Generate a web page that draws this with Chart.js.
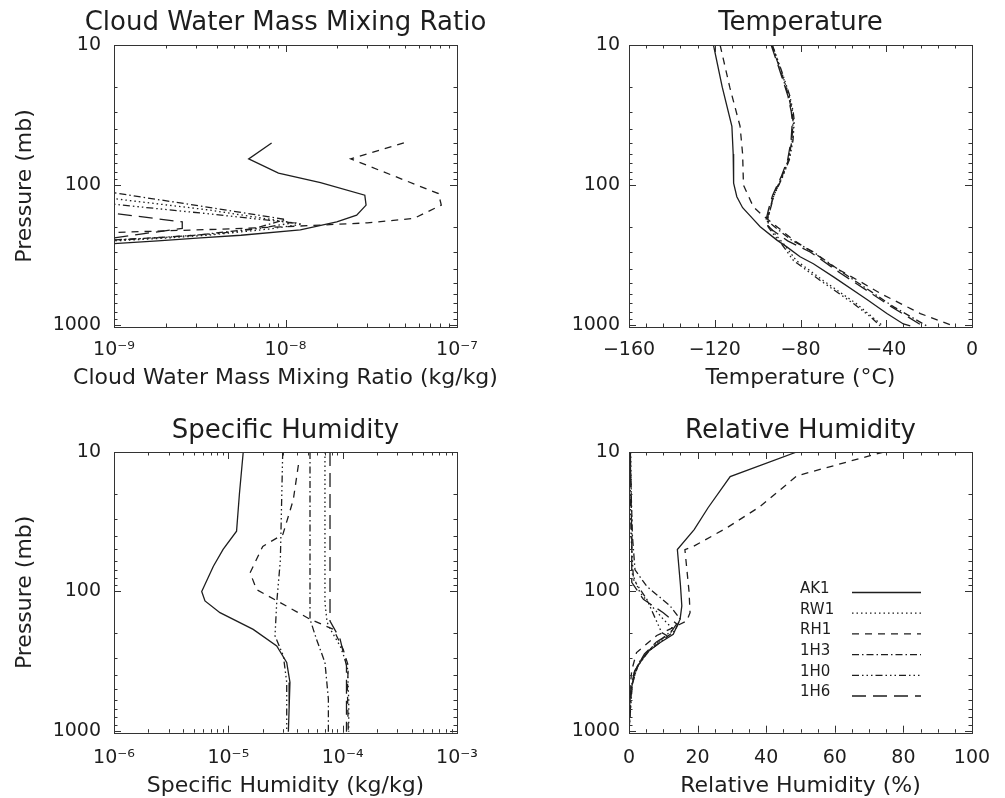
<!DOCTYPE html>
<html>
<head>
<meta charset="utf-8">
<title>Profiles</title>
<script src="https://cdn.jsdelivr.net/npm/chart.js@4.4.0/dist/chart.umd.min.js"></script>
<style>
    html, body { margin: 0; padding: 0; background: #fff; overflow: hidden; }
    .panel { position: absolute; }
    canvas { display: block; }
</style>
</head>
<body>
<div class="panel" style="left:0;top:0"><canvas id="cloud-chart" width="500" height="400"></canvas></div>
<div class="panel" style="left:500px;top:0"><canvas id="temp-chart" width="505" height="400"></canvas></div>
<div class="panel" style="left:0;top:400px"><canvas id="shum-chart" width="500" height="398"></canvas></div>
<div class="panel" style="left:500px;top:400px"><canvas id="rhum-chart" width="505" height="398"></canvas></div>
<script>
// ===============================
// DATA  (pairs are [value, pressure in mb])
// ===============================
const runNames = ["AK1", "RW1", "RH1", "1H3", "1H0", "1H6"];

const pressureTicks = [10, 100, 1000];
const cloudTicks = [1e-9, 1e-8, 1e-7];
const tempTicks = [-160, -120, -80, -40, 0];
const shumTicks = [1e-6, 1e-5, 1e-4, 1e-3];
const rhumTicks = [0, 20, 40, 60, 80, 100];

// Cloud water mass mixing ratio (kg/kg)
const cloudAK1 = [[8.3e-9, 50], [6.1e-9, 65], [9.1e-9, 82], [1.6e-8, 96], [2.9e-8, 118], [2.95e-8, 139], [2.6e-8, 164], [1.99e-8, 183], [1.22e-8, 209], [5.5e-9, 228], [3.2e-9, 238], [1.8e-9, 250], [1e-9, 262], [6e-10, 265]];
const cloudRW1 = [[6e-10, 124], [1e-9, 125], [3.5e-9, 150], [1.25e-8, 190], [8e-9, 206], [3.5e-9, 228], [1.8e-9, 241], [1e-9, 250], [6e-10, 253]];
const cloudRH1 = [[4.9e-8, 50], [2.4e-8, 65], [7.8e-8, 115], [8.1e-8, 139], [5.6e-8, 173], [3.0e-8, 186], [1.9e-8, 191], [1.2e-8, 196], [5e-9, 205], [2e-9, 212], [1e-9, 218], [6e-10, 220]];
const cloud1H3 = [[6e-10, 113], [1e-9, 113.5], [3.3e-9, 142], [1.0e-8, 176], [6.5e-9, 205], [3e-9, 228], [1.5e-9, 240], [1e-9, 246], [6e-10, 249]];
const cloud1H0 = [[6e-10, 136], [1e-9, 137], [3.5e-9, 160], [1.1e-8, 186], [7e-9, 204], [4e-9, 222], [2e-9, 236], [1e-9, 247], [6e-10, 250]];
const cloud1H6 = [[6e-10, 158], [1e-9, 159], [2.5e-9, 183], [2.5e-9, 204], [1.5e-9, 222], [1e-9, 238], [6e-10, 242]];

// Temperature (deg C)
const tempAK1 = [[-120.6, 10], [-116.5, 20], [-112, 38], [-111.4, 60], [-111.2, 97], [-109.7, 121], [-107, 145], [-102.5, 172], [-98.8, 198], [-91, 247], [-86.4, 276], [-80.2, 325], [-74, 364], [-64.6, 452], [-49, 655], [-39.7, 826], [-32, 980], [-28.8, 1013]];
const tempRW1 = [[-93.2, 10], [-89.2, 15], [-85.3, 23], [-83.7, 30], [-83.2, 35], [-83.8, 48], [-85.4, 66], [-88.5, 87], [-92.4, 118], [-94, 147], [-95.4, 178], [-94.5, 200], [-91, 232], [-88, 261], [-82, 345], [-69.5, 479], [-54, 701], [-41.5, 1013]];
const tempRH1 = [[-117.5, 10], [-113, 20], [-108.2, 38], [-107, 60], [-106.6, 100], [-102, 143], [-98.8, 159], [-91, 198], [-83.3, 247], [-73, 310], [-64.6, 383], [-53, 480], [-42.8, 592], [-24.1, 826], [-8.5, 1013]];
const temp1H3 = [[-93.4, 10], [-89.5, 15], [-85.6, 23], [-84, 30], [-83.5, 35], [-84, 48], [-85.6, 66], [-88.7, 87], [-92.6, 118], [-94.2, 147], [-95.7, 178], [-93.5, 190], [-91, 205], [-84, 248], [-74, 300], [-60, 424], [-45.9, 592], [-36.5, 740], [-21, 1013]];
const temp1H0 = [[-93.1, 10], [-89, 15], [-85, 23], [-83.4, 30], [-82.9, 35], [-83.5, 48], [-85.2, 66], [-88.3, 87], [-92.3, 118], [-94, 147], [-95.5, 178], [-95, 200], [-92, 230], [-89, 261], [-83.3, 345], [-70.8, 479], [-55.3, 701], [-47, 880], [-42.8, 1013]];
const temp1H6 = [[-93.7, 10], [-89.8, 15], [-85.9, 23], [-84.3, 30], [-83.8, 35], [-84.4, 48], [-86, 66], [-89, 87], [-93, 118], [-94.8, 147], [-96.5, 188], [-93, 210], [-86, 250], [-75.5, 300], [-61.5, 424], [-47, 592], [-37.5, 740], [-23, 1013]];

// Specific humidity (kg/kg)
const shumAK1 = [[1.35e-5, 10], [1.25e-5, 20], [1.18e-5, 37], [9.0e-6, 50], [7.4e-6, 66], [5.85e-6, 100], [6.25e-6, 117], [8.45e-6, 142], [1.65e-5, 187], [2.65e-5, 246], [3.24e-5, 323], [3.46e-5, 449], [3.4e-5, 700], [3.35e-5, 1013]];
const shumRW1 = [[7.0e-5, 10], [7.0e-5, 60], [7.0e-5, 120], [7.3e-5, 165], [7.6e-5, 180], [9.5e-5, 246], [1.1e-4, 342], [1.13e-4, 600], [1.13e-4, 1013]];
const shumRH1 = [[4.1e-5, 12.4], [3.7e-5, 22], [3.0e-5, 39], [2.0e-5, 47.5], [1.55e-5, 73.5], [1.77e-5, 97], [2.83e-5, 120], [5.17e-5, 158], [8.3e-5, 187], [1.01e-4, 260], [1.12e-4, 342], [1.1e-4, 500], [1.12e-4, 1013]];
const shum1H3 = [[5.18e-5, 10], [5.18e-5, 60], [5.18e-5, 158], [5.9e-5, 220], [7.0e-5, 323], [7.5e-5, 590], [7.5e-5, 1013]];
const shum1H0 = [[2.99e-5, 10], [2.85e-5, 60], [2.65e-5, 120], [2.56e-5, 208], [3.03e-5, 290], [3.24e-5, 449], [3.24e-5, 1013]];
const shum1H6 = [[7.75e-5, 10], [7.75e-5, 60], [7.75e-5, 163], [9.5e-5, 220], [1.08e-4, 342], [1.08e-4, 1013]];

// Relative humidity (%)
const rhumAK1 = [[48.9, 10], [29.5, 15], [23.1, 25], [19, 36], [14.1, 50], [15, 90], [15.4, 127], [14.9, 158], [12.9, 203], [9, 233], [5.2, 274], [1.75, 368], [0.3, 558], [0, 1013]];
const rhumRW1 = [[0.5, 10], [0.8, 40], [0.8, 73], [3.2, 102], [10, 158], [12.9, 187], [9.5, 220], [5.5, 270], [2, 360], [0.5, 500], [0, 1013]];
const rhumRH1 = [[74.2, 10], [49, 14.8], [38.2, 24.6], [28.5, 35], [18.8, 47.5], [16.3, 50.1], [17.5, 100], [17.8, 142], [16.8, 163], [8.1, 207], [2.2, 274], [0.8, 368], [0, 600], [0, 1013]];
const rhum1H3 = [[0.3, 10], [1, 40], [1.75, 70], [5.2, 92], [12, 127], [14.9, 158], [13.5, 190], [10, 222], [6, 265], [2.5, 340], [0.8, 480], [0, 1013]];
const rhum1H0 = [[0.2, 10], [0.6, 40], [1.3, 82], [5.2, 114], [9.5, 197], [11, 207], [7, 246], [3, 320], [1, 450], [0, 1013]];
const rhum1H6 = [[0.4, 10], [0.8, 40], [0.8, 86], [4.2, 114], [10, 142], [13.9, 171], [12, 200], [8, 230], [4.5, 280], [1.5, 380], [0.3, 560], [0, 1013]];


// ===============================
// STYLE
// ===============================
const INK = "#1e1e1e";
const FONT = "'DejaVu Sans', sans-serif";

const lineDash = {
    "AK1": [],
    "RW1": [1.5, 3],
    "RH1": [7, 6],
    "1H3": [7, 3, 1.5, 3],
    "1H0": [7, 3, 1.5, 3, 1.5, 3, 1.5, 3],
    "1H6": [14, 7]
};

Chart.defaults.font.family = FONT;
Chart.defaults.color = INK;

const SUP = { "-": "\u207B", "0": "\u2070", "1": "\u00B9", "2": "\u00B2", "3": "\u00B3",
              "4": "\u2074", "5": "\u2075", "6": "\u2076", "7": "\u2077", "8": "\u2078", "9": "\u2079" };

function powerLabel(v) {
    const e = String(Math.round(Math.log10(v)));
    return "10" + e.split("").map(c => SUP[c]).join("");
}

function signedLabel(v) {
    return v < 0 ? "\u2212" + (-v) : String(v);
}

// minor ticks 2..9 x 10^k between the major decades
function logMinors(majors) {
    const out = [];
    for (let i = 0; i < majors.length - 1; i++) {
        for (let m = 2; m <= 9; m++) out.push(majors[i] * m);
    }
    return out;
}

function linearMinors(majors, step) {
    const out = [];
    const lo = majors[0], hi = majors[majors.length - 1];
    for (let v = lo; v <= hi + 1e-9; v += step) {
        if (!majors.some(m => Math.abs(m - v) < 1e-9)) out.push(v);
    }
    return out;
}


// ===============================
// PLUGINS: IDL-like box with inward ticks, titles, inline legend
// ===============================
const frameTicks = {
    id: "frameTicks",
    afterDatasetsDraw(chart, args, opts) {
        const { ctx, chartArea: a } = chart;
        const xs = chart.scales.x, ys = chart.scales.y;
        ctx.save();
        ctx.strokeStyle = "#333";
        ctx.lineWidth = 1;
        ctx.setLineDash([]);
        ctx.strokeRect(Math.round(a.left) + 0.5, Math.round(a.top) + 0.5,
                       Math.round(a.right - a.left), Math.round(a.bottom - a.top));

        const vTicks = (vals, len) => vals.forEach(v => {
            const px = Math.round(xs.getPixelForValue(v)) + 0.5;
            ctx.beginPath();
            ctx.moveTo(px, a.bottom); ctx.lineTo(px, a.bottom - len);
            ctx.moveTo(px, a.top); ctx.lineTo(px, a.top + len);
            ctx.stroke();
        });
        const hTicks = (vals, len) => vals.forEach(v => {
            const py = Math.round(ys.getPixelForValue(v)) + 0.5;
            ctx.beginPath();
            ctx.moveTo(a.left, py); ctx.lineTo(a.left + len, py);
            ctx.moveTo(a.right, py); ctx.lineTo(a.right - len, py);
            ctx.stroke();
        });
        vTicks(opts.xMajor, 7);
        vTicks(opts.xMinor, 3.5);
        hTicks(opts.yMajor, 7);
        hTicks(opts.yMinor, 3.5);
        ctx.restore();
    }
};

// plot title and x title centred on the plot box, allowed to run past it
const boxTitles = {
    id: "boxTitles",
    afterDraw(chart, args, opts) {
        const { ctx, chartArea: a } = chart;
        const cx = (a.left + a.right) / 2;
        ctx.save();
        ctx.fillStyle = INK;
        ctx.textAlign = "center";
        ctx.textBaseline = "middle";
        ctx.font = "26px " + FONT;
        ctx.fillText(opts.title, cx, a.top - opts.titleGap);
        ctx.font = "22px " + FONT;
        ctx.fillText(opts.xTitle, cx, a.bottom + opts.xTitleGap);
        ctx.restore();
    }
};

const profileLegend = {
    id: "profileLegend",
    afterDraw(chart, args, opts) {
        if (!opts.show) return;
        const { ctx, chartArea: a } = chart;
        ctx.save();
        ctx.font = "15px " + FONT;
        ctx.fillStyle = INK;
        ctx.textBaseline = "middle";
        ctx.textAlign = "left";
        chart.data.datasets.forEach((ds, i) => {
            const y = a.top + 137 + i * 20.7;
            ctx.fillText(ds.label, a.left + 171, y);
            ctx.strokeStyle = INK;
            ctx.lineWidth = 1.3;
            ctx.setLineDash(ds.borderDash);
            ctx.beginPath();
            ctx.moveTo(a.left + 223, y + 3.5);
            ctx.lineTo(a.left + 292, y + 3.5);
            ctx.stroke();
        });
        ctx.restore();
    }
};


// ===============================
// CHART FACTORY
// ===============================
function buildDatasets(seriesList) {
    return seriesList.map((pairs, i) => ({
        label: runNames[i],
        data: pairs.map(([v, p]) => ({ x: v, y: p })),
        borderColor: INK,
        borderWidth: 1.3,
        borderDash: lineDash[runNames[i]],
        pointRadius: 0,
        tension: 0,
        fill: false
    }));
}

function renderProfile(canvasId, cfg) {
    const canvas = document.getElementById(canvasId);
    if (!canvas) return;
    const W = canvas.width, H = canvas.height;

    new Chart(canvas, {
        type: "line",
        data: { datasets: buildDatasets(cfg.series) },
        plugins: [frameTicks, boxTitles, profileLegend],
        options: {
            responsive: false,
            animation: false,
            layout: { padding: { left: 0, top: cfg.area.top, bottom: 0, right: W - cfg.area.right } },
            plugins: {
                legend: { display: false },
                tooltip: { enabled: false },
                title: { display: false },
                frameTicks: {
                    xMajor: cfg.xTicks, xMinor: cfg.xMinor,
                    yMajor: pressureTicks, yMinor: logMinors(pressureTicks)
                },
                boxTitles: {
                    title: cfg.title, xTitle: cfg.xTitle,
                    titleGap: cfg.titleGap, xTitleGap: cfg.xTitleGap
                },
                profileLegend: { show: !!cfg.legend }
            },
            scales: {
                x: {
                    type: cfg.xType,
                    min: cfg.xTicks[0],
                    max: cfg.xTicks[cfg.xTicks.length - 1],
                    afterBuildTicks: s => { s.ticks = cfg.xTicks.map(v => ({ value: v })); },
                    afterFit: s => { s.height = H - cfg.area.bottom; },
                    grid: { display: false, drawTicks: false },
                    border: { display: false },
                    ticks: {
                        autoSkip: false, maxRotation: 0,
                        padding: cfg.xLabelPad,
                        color: INK,
                        font: { size: 19 },
                        callback: cfg.xLabel
                    },
                    title: { display: false }
                },
                y: {
                    type: "logarithmic",
                    reverse: true,
                    min: 10,
                    max: 1030,
                    afterBuildTicks: s => { s.ticks = pressureTicks.map(v => ({ value: v })); },
                    afterFit: s => { s.width = cfg.area.left; },
                    grid: { display: false, drawTicks: false },
                    border: { display: false },
                    ticks: {
                        autoSkip: false,
                        padding: cfg.yLabelPad,
                        color: INK,
                        font: { size: 19 },
                        callback: v => String(v)
                    },
                    title: {
                        display: !!cfg.yTitle, text: cfg.yTitle || "", color: INK,
                        font: { size: 22, lineHeight: 1 },
                        padding: { top: 14.5, bottom: 0 }
                    }
                }
            }
        }
    });
}


// ===============================
// INIT
// ===============================
document.addEventListener("DOMContentLoaded", () => {
    renderProfile("cloud-chart", {
        title: "Cloud Water Mass Mixing Ratio",
        xTitle: "Cloud Water Mass Mixing Ratio (kg/kg)",
        yTitle: "Pressure (mb)",
        xType: "logarithmic",
        xTicks: cloudTicks,
        xMinor: logMinors(cloudTicks),
        xLabel: powerLabel,
        series: [cloudAK1, cloudRW1, cloudRH1, cloud1H3, cloud1H0, cloud1H6],
        area: { left: 114, right: 457, top: 45, bottom: 327 },
        titleGap: 22, xTitleGap: 51,
        xLabelPad: 11.6, yLabelPad: 13
    });

    renderProfile("temp-chart", {
        title: "Temperature",
        xTitle: "Temperature (\u00B0C)",
        xType: "linear",
        xTicks: tempTicks,
        xMinor: linearMinors(tempTicks, 8),
        xLabel: signedLabel,
        series: [tempAK1, tempRW1, tempRH1, temp1H3, temp1H0, temp1H6],
        area: { left: 129, right: 472, top: 45, bottom: 327 },
        titleGap: 22, xTitleGap: 51,
        xLabelPad: 11.6, yLabelPad: 9
    });

    renderProfile("shum-chart", {
        title: "Specific Humidity",
        xTitle: "Specific Humidity (kg/kg)",
        yTitle: "Pressure (mb)",
        xType: "logarithmic",
        xTicks: shumTicks,
        xMinor: logMinors(shumTicks),
        xLabel: powerLabel,
        series: [shumAK1, shumRW1, shumRH1, shum1H3, shum1H0, shum1H6],
        area: { left: 114, right: 457, top: 52, bottom: 332.7 },
        titleGap: 20.3, xTitleGap: 54,
        xLabelPad: 14.2, yLabelPad: 13
    });

    renderProfile("rhum-chart", {
        title: "Relative Humidity",
        xTitle: "Relative Humidity (%)",
        xType: "linear",
        xTicks: rhumTicks,
        xMinor: linearMinors(rhumTicks, 5),
        xLabel: v => String(v),
        series: [rhumAK1, rhumRW1, rhumRH1, rhum1H3, rhum1H0, rhum1H6],
        area: { left: 129, right: 472, top: 52, bottom: 332.7 },
        titleGap: 20.3, xTitleGap: 54,
        xLabelPad: 14.2, yLabelPad: 9,
        legend: true
    });
});
</script>
</body>
</html>
